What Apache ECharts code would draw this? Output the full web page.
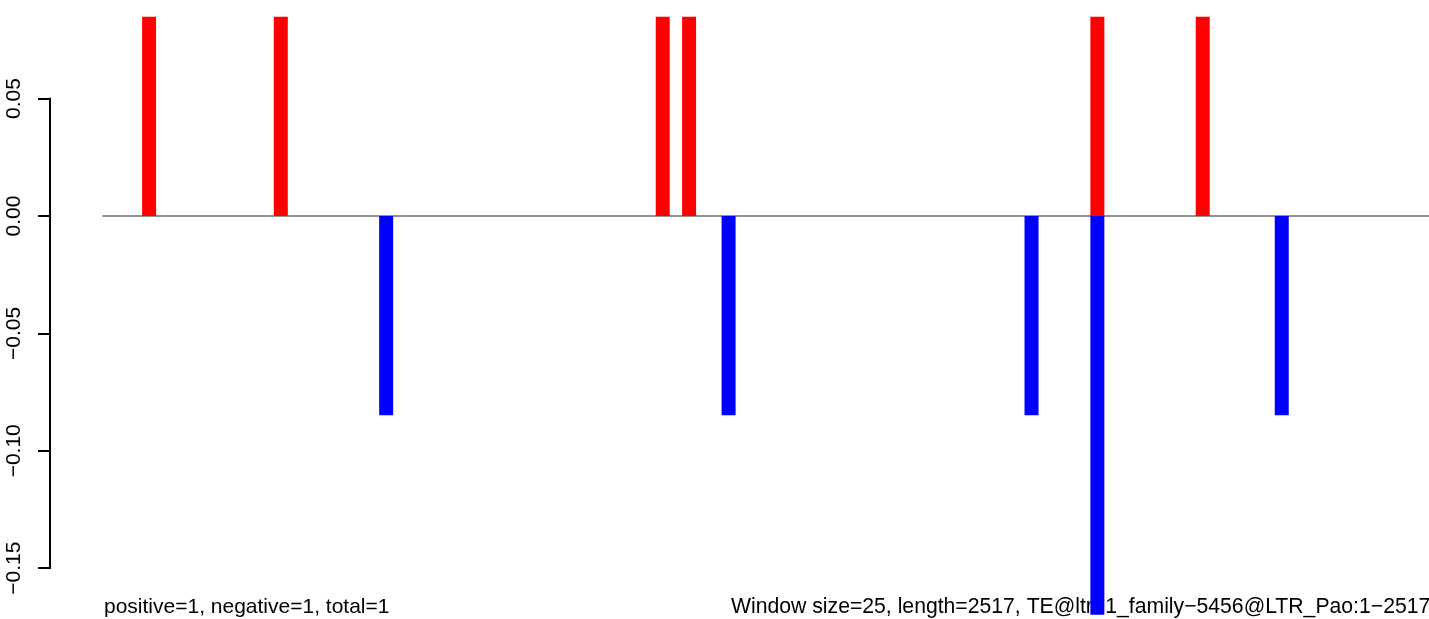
<!DOCTYPE html>
<html>
<head>
<meta charset="utf-8">
<script src="https://cdn.jsdelivr.net/npm/echarts@6/dist/echarts.min.js"></script>
<style>
html,body{margin:0;padding:0;background:#fff;}
#chart{width:1429px;height:619px;}
</style>
</head>
<body>
<div id="chart"></div>
<script>
// ---- data ----
const windowSize = 25;
const seqLength = 2517;
// window indices (0-based) with positive / negative signal
const positiveWindows = [3, 13, 42, 44, 75, 83];
const positiveValues  = [0.0849, 0.0849, 0.0849, 0.0849, 0.0849, 0.0849];
const negativeWindows = [21, 47, 70, 75, 89];
const negativeValues  = [-0.0849, -0.0849, -0.0849, -0.1698, -0.0849];
const yTicks = [-0.15, -0.10, -0.05, 0.00, 0.05];
const yRange = [-0.1698, 0.0849];
const leftNote = "positive=1, negative=1, total=1";
const rightNote = "Window size=25, length=2517, TE@ltr\u22121_family\u22125456@LTR_Pao:1\u22122517";

const toPoints = (wins, vals) => wins.map((w, i) => [w * windowSize + windowSize / 2, vals[i]]);

const FONT = "'Liberation Sans', Arial, Helvetica, sans-serif";
const chart = echarts.init(document.getElementById('chart'), null, {renderer: 'canvas'});

chart.setOption({
  animation: false,
  backgroundColor: '#ffffff',
  grid: [
    {left: 103, right: 0, top: 16.7, bottom: 4.3},
    {left: 50, width: 1, top: 98.6, bottom: 50.8}
  ],
  xAxis: [
    {
      type: 'value', gridIndex: 0, min: 0, max: seqLength,
      axisLine: {show: true, onZero: true, lineStyle: {color: '#6e6e6e', width: 1.6}},
      axisTick: {show: false}, axisLabel: {show: false}, splitLine: {show: false}
    },
    {
      type: 'value', gridIndex: 1, show: false
    }
  ],
  yAxis: [
    {
      type: 'value', gridIndex: 0, min: yRange[0], max: yRange[1], show: false
    },
    {
      type: 'value', gridIndex: 1, min: yTicks[0], max: yTicks[yTicks.length - 1], interval: 0.05,
      position: 'left',
      axisLine: {show: true, lineStyle: {color: '#000', width: 2}},
      axisTick: {show: true, length: 12, lineStyle: {color: '#000', width: 2}},
      splitLine: {show: false},
      axisLabel: {
        rotate: 90, margin: 25, color: '#000', fontSize: 21, fontFamily: FONT,
        formatter: v => (v < 0 ? '\u2212' : '') + Math.abs(v).toFixed(2)
      }
    }
  ],
  graphic: [
    {
      type: 'text', left: 104, top: 597, z: 0,
      style: {text: leftNote, fill: '#000', font: '21px ' + FONT}
    },
    {
      type: 'text', left: 731, top: 597, z: 0,
      style: {text: rightNote, fill: '#000', font: '21.2px ' + FONT}
    }
  ],
  series: [
    {
      type: 'bar', xAxisIndex: 0, yAxisIndex: 0, barWidth: 14, barGap: '-100%',
      itemStyle: {color: '#ff0000'}, data: toPoints(positiveWindows, positiveValues), z: 5
    },
    {
      type: 'bar', xAxisIndex: 0, yAxisIndex: 0, barWidth: 14, barGap: '-100%',
      itemStyle: {color: '#0000ff'}, data: toPoints(negativeWindows, negativeValues), z: 5
    }
  ]
});
</script>
</body>
</html>
